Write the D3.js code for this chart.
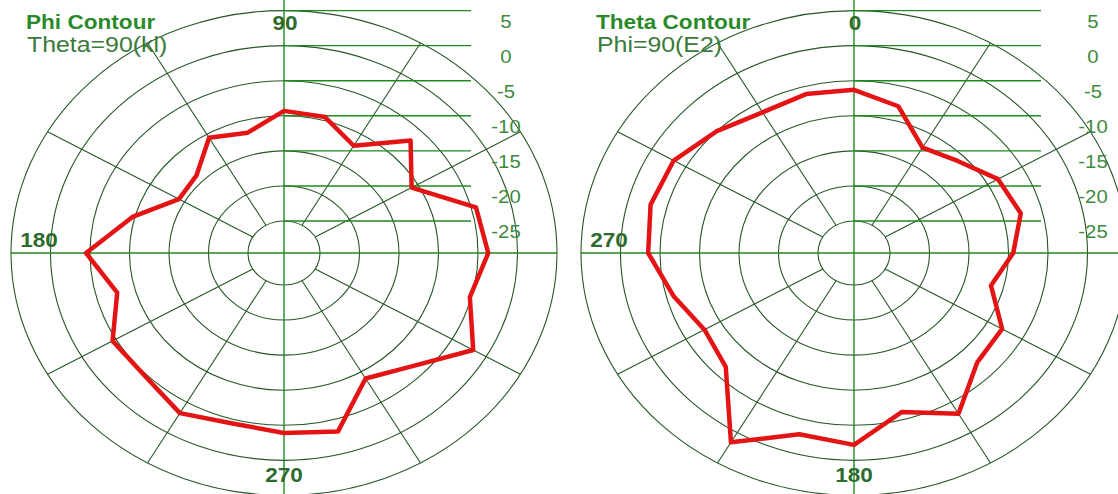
<!DOCTYPE html>
<html>
<head>
<meta charset="utf-8">
<script src="https://cdn.jsdelivr.net/npm/d3@7"></script>
<style>
  html, body { margin: 0; padding: 0; background: #fff; }
  svg { display: block; font-family: "Liberation Sans", Arial, sans-serif; }
</style>
</head>
<body>
<svg id="chart" width="1118" height="494"></svg>
<script>
// grid values (dB) and spoke directions
const RING_VALUES = [5, 0, -5, -10, -15, -20, -25];
const SPOKE_ANGLES = [30, 60, 120, 150, 210, 240, 300, 330];

// Phi contour, angle counter-clockwise from the right
const PHI_ANGLES = [0, 15, 30, 45, 60, 75, 90, 105, 120, 135, 150, 165,
  180, 195, 210, 225, 240, 255, 270, 285, 300, 315, 330, 345];
const PHI_GAIN = [-3.7, -4.4, -10.9, -6.9, -11.9, -9.5, -9.3, -11.8, -10.6, -13.9, -14.2, -9.7,
  -4.5, -7.7, -4.5, -4.7, -3.2, -4.4, -3.9, -3.2, -8.9, -6.7, -1.9, -5.2];

// Theta contour, angle clockwise from the top
const THETA_ANGLES = [0, 15, 30, 45, 60, 75, 90, 105, 120, 135, 150, 165,
  180, 195, 210, 225, 240, 255, 270, 285, 300, 315, 330, 345];
const THETA_GAIN = [-6.3, -7.9, -12.2, -11.0, -8.5, -7.7, -9.4, -11.6, -7.9, -7.5, -3.1, -6.1,
  -2.2, -2.8, 1.6, -6.6, -7.7, -5.9, -3.5, -2.9, -3.2, -5.0, -6.4, -6.1];

const KY = 0.888; // the plot is squashed vertically
const SX = 1.13;  // text is stretched the same way

const r = d3.scaleLinear().domain([-25, 5]).range([36, 273]);

const panels = [
  { cx: 284, cy: 253, title: "Phi Contour", sub: "Theta=90(kl)",
    angles: PHI_ANGLES, gain: PHI_GAIN, compass: false,
    top: "90", left: "180", bottom: "270", dbX: 222 },
  { cx: 854, cy: 253, title: "Theta Contour", sub: "Phi=90(E2)",
    angles: THETA_ANGLES, gain: THETA_GAIN, compass: true,
    top: "0", left: "270", bottom: "180", dbX: 239 }
];

const svg = d3.select("#chart");
const rad = Math.PI / 180;

panels.forEach(p => drawPanel(p));

function drawPanel(p) {
  const g = svg.append("g").attr("transform", `translate(${p.cx},${p.cy})`);
  const px = (a, rr) => rr * Math.cos(a * rad);
  const py = (a, rr) => -rr * KY * Math.sin(a * rad);

  // rings
  g.selectAll(".ring")
    .data(RING_VALUES)
    .enter()
    .append("ellipse")
    .attr("rx", d => r(d))
    .attr("ry", d => r(d) * KY)
    .attr("fill", "none")
    .attr("stroke", "#275527")
    .attr("stroke-width", 1.1);

  // spokes, from inner ring to outer ring
  g.selectAll(".spoke")
    .data(SPOKE_ANGLES)
    .enter()
    .append("line")
    .attr("x1", d => px(d, r(-25)))
    .attr("y1", d => py(d, r(-25)))
    .attr("x2", d => px(d, r(5)))
    .attr("y2", d => py(d, r(5)))
    .attr("stroke", "#275527")
    .attr("stroke-width", 1.1);

  // dB reference lines
  g.selectAll(".hline")
    .data(RING_VALUES)
    .enter()
    .append("line")
    .attr("x1", 0)
    .attr("x2", 187)
    .attr("y1", d => -r(d) * KY)
    .attr("y2", d => -r(d) * KY)
    .attr("stroke", "#1f8a1f")
    .attr("stroke-width", 1.4);

  // main axes
  g.append("line")
    .attr("x1", -r(5)).attr("x2", r(5)).attr("y1", 0).attr("y2", 0)
    .attr("stroke", "#1f8a1f").attr("stroke-width", 1.4);
  g.append("line")
    .attr("x1", 0).attr("x2", 0).attr("y1", -p.cy).attr("y2", 494 - p.cy)
    .attr("stroke", "#1f8a1f").attr("stroke-width", 1.4);

  // pattern
  const pts = p.angles.map((a, i) => {
    const m = p.compass ? 90 - a : a;
    return [px(m, r(p.gain[i])), py(m, r(p.gain[i]))];
  });
  g.append("path")
    .attr("d", d3.line().curve(d3.curveLinearClosed)(pts))
    .attr("fill", "none")
    .attr("stroke", "#e41414")
    .attr("stroke-width", 4.5)
    .attr("stroke-linejoin", "round");

  // dB labels
  g.selectAll(".db")
    .data(RING_VALUES)
    .enter()
    .append("text")
    .attr("transform", d => `translate(${p.dbX},${-r(d) * KY + 17}) scale(${SX},1)`)
    .attr("text-anchor", "middle")
    .attr("fill", "#3d8a3d")
    .style("font-size", "18px")
    .text(d => d);

  // angle labels
  const angleLabel = (txt, x, y) => g.append("text")
    .attr("transform", `translate(${x},${y}) scale(${SX},1)`)
    .attr("text-anchor", "middle")
    .attr("fill", "#2d6b2d")
    .style("font-size", "20px")
    .style("font-weight", "bold")
    .text(txt);
  angleLabel(p.top, 1, -223);
  angleLabel(p.left, -245, -6);
  angleLabel(p.bottom, 0, 229);

  // titles
  svg.append("text")
    .attr("transform", `translate(${p.cx - 258},29) scale(${SX},1)`)
    .attr("fill", "#2a8a2a")
    .style("font-size", "20px")
    .style("font-weight", "bold")
    .text(p.title);
  svg.append("text")
    .attr("transform", `translate(${p.cx - 257},52) scale(${SX},1)`)
    .attr("fill", "#3a7a3a")
    .style("font-size", "22px")
    .text(p.sub);
}
</script>
</body>
</html>
